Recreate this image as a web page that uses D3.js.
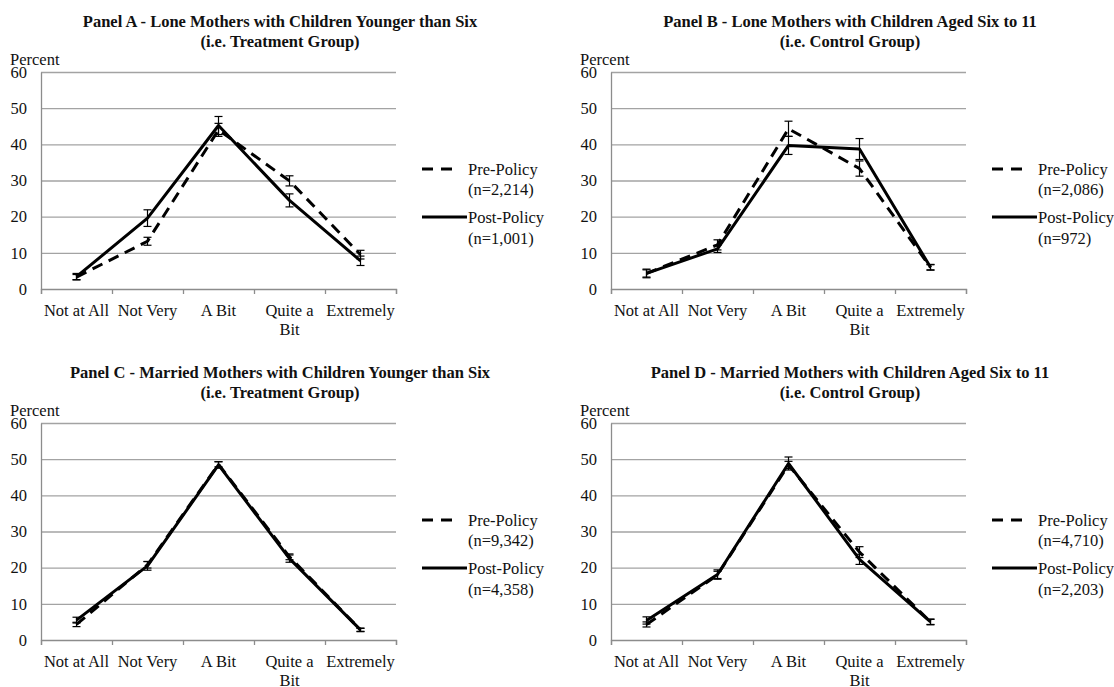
<!DOCTYPE html>
<html>
<head>
<meta charset="utf-8">
<script src="https://cdn.jsdelivr.net/npm/d3@7"></script>
<style>
  body { margin: 0; background: #fff; }
  svg text { font-family: "Liberation Serif", "DejaVu Serif", serif; }
</style>
</head>
<body>
<svg id="chart" width="1114" height="687" font-family="Liberation Serif, DejaVu Serif, serif"></svg>
<script>
let categories = ["Not at All", "Not Very", "A Bit", "Quite a Bit", "Extremely"];
let yTicks = [0, 10, 20, 30, 40, 50, 60];

let panelTitles = [
  "Panel A - Lone Mothers with Children Younger than Six",
  "Panel B - Lone Mothers with Children Aged Six to 11",
  "Panel C - Married Mothers with Children Younger than Six",
  "Panel D - Married Mothers with Children Aged Six to 11"
];
let panelSubtitles = ["(i.e. Treatment Group)", "(i.e. Control Group)", "(i.e. Treatment Group)", "(i.e. Control Group)"];
let preN = ["2,214", "2,086", "9,342", "4,710"];
let postN = ["1,001", "972", "4,358", "2,203"];

// percent values
let preA = [3.3, 13.2, 44.0, 29.9, 9.5];
let postA = [3.4, 19.6, 45.2, 24.5, 7.8];
let preErrA = [0.7, 1.1, 1.8, 1.4, 1.2];
let postErrA = [0.9, 2.3, 2.5, 1.8, 1.3];

let preB = [4.3, 12.2, 44.3, 33.3, 6.0];
let postB = [4.3, 11.1, 39.7, 38.7, 6.0];
let preErrB = [1.0, 1.4, 2.1, 2.1, 0.7];
let postErrB = [1.2, 1.0, 2.5, 2.9, 0.8];

let preC = [4.3, 20.8, 48.6, 23.0, 2.8];
let postC = [5.5, 20.5, 48.4, 22.5, 2.8];
let preErrC = [0.6, 0.9, 0.7, 0.8, 0.4];
let postErrC = [0.8, 1.2, 0.9, 1.0, 0.5];

let preD = [4.3, 18.0, 48.4, 24.3, 5.0];
let postD = [5.4, 18.1, 48.8, 22.3, 5.0];
let preErrD = [0.7, 1.0, 1.0, 1.5, 0.7];
let postErrD = [1.0, 1.3, 1.8, 1.4, 0.8];

let panels = [
  { pre: preA, post: postA, preErr: preErrA, postErr: postErrA, dx: 0, dy: 0 },
  { pre: preB, post: postB, preErr: preErrB, postErr: postErrB, dx: 570, dy: 0 },
  { pre: preC, post: postC, preErr: preErrC, postErr: postErrC, dx: 0, dy: 351 },
  { pre: preD, post: postD, preErr: preErrD, postErr: postErrD, dx: 570, dy: 351 }
];

let svg = d3.select("#chart"),
    margin = { top: 72, left: 41 },
    width = 355,
    height = 217,
    fs = 16.5,
    serif = "Liberation Serif, DejaVu Serif, serif";

let x = d3.scaleBand().domain(categories).range([0, width]);
let xEdge = d3.scaleLinear().domain([0, categories.length]).range([0, width]);
let y = d3.scaleLinear().domain([0, 60]).range([height, 0]);

function wrap(text, w) {
  text.each(function() {
    let t = d3.select(this),
        words = t.text().split(/\s+/).reverse(),
        word, line = [], lineNumber = 0,
        yy = t.attr("y"), dy = parseFloat(t.attr("dy")),
        tspan = t.text(null).append("tspan").attr("x", 0).attr("y", yy).attr("dy", dy + "em");
    while (word = words.pop()) {
      line.push(word);
      tspan.text(line.join(" "));
      if (tspan.node().getComputedTextLength() > w && line.length > 1) {
        line.pop();
        tspan.text(line.join(" "));
        line = [word];
        tspan = t.append("tspan").attr("x", 0).attr("y", yy)
          .attr("dy", ++lineNumber * 1.15 + dy + "em").text(word);
      }
    }
  });
}

let line = d3.line()
  .x(function(d, i) { return x(categories[i]) + x.bandwidth() / 2; })
  .y(function(d) { return y(d); });

panels.forEach(function(p, k) {
  let root = svg.append("g").attr("transform", "translate(" + p.dx + "," + p.dy + ")");

  root.append("text")
    .attr("x", 280).attr("y", 27)
    .attr("text-anchor", "middle").attr("font-weight", "bold").attr("font-size", fs)
    .attr("fill", "#111")
    .text(panelTitles[k]);
  root.append("text")
    .attr("x", 280).attr("y", 47)
    .attr("text-anchor", "middle").attr("font-weight", "bold").attr("font-size", fs)
    .attr("fill", "#111")
    .text(panelSubtitles[k]);
  root.append("text")
    .attr("x", 10).attr("y", 65)
    .attr("font-size", fs).attr("fill", "#111")
    .text("Percent");

  let g = root.append("g").attr("transform", "translate(" + margin.left + "," + margin.top + ")");

  // gridlines
  g.append("g")
    .call(d3.axisLeft(y).tickValues(yTicks.slice(1)).tickSize(-width).tickFormat(""))
    .call(function(a) { a.select(".domain").remove(); })
    .selectAll("line").attr("stroke", "#a3a3a3").attr("stroke-width", 1.3);

  // y axis
  g.append("g")
    .call(d3.axisLeft(y).tickValues(yTicks).tickSize(0).tickPadding(14))
    .attr("font-family", serif).attr("font-size", fs)
    .call(function(a) { a.select(".domain").attr("stroke", "#8c8c8c").attr("stroke-width", 1.3); })
    .selectAll("text").attr("fill", "#111");

  // x axis: tick marks between categories
  g.append("g")
    .attr("transform", "translate(0," + height + ")")
    .call(d3.axisBottom(xEdge).tickValues(d3.range(categories.length + 1)).tickSize(5).tickFormat(""))
    .call(function(a) {
      a.select(".domain").attr("stroke", "#8c8c8c").attr("stroke-width", 1.3);
      a.selectAll("line").attr("stroke", "#8c8c8c").attr("stroke-width", 1.3);
    });

  g.append("g")
    .attr("transform", "translate(0," + height + ")")
    .call(d3.axisBottom(x).tickSize(0).tickPadding(15))
    .attr("font-family", serif).attr("font-size", fs)
    .call(function(a) { a.select(".domain").remove(); })
    .selectAll("text").attr("fill", "#111")
    .call(wrap, x.bandwidth() - 1);

  // series lines
  g.append("path").datum(p.pre)
    .attr("fill", "none").attr("stroke", "#000").attr("stroke-width", 3)
    .attr("stroke-dasharray", "11,7").attr("stroke-linejoin", "round")
    .attr("d", line);
  g.append("path").datum(p.post)
    .attr("fill", "none").attr("stroke", "#000").attr("stroke-width", 3)
    .attr("stroke-linejoin", "round")
    .attr("d", line);

  // error bars
  [[p.pre, p.preErr], [p.post, p.postErr]].forEach(function(s) {
    let eb = g.append("g").selectAll("g")
      .data(s[0].map(function(v, i) { return { c: categories[i], v: v, e: s[1][i] }; }))
      .enter().append("g")
        .attr("transform", function(d) { return "translate(" + (x(d.c) + x.bandwidth() / 2) + ",0)"; })
        .attr("stroke", "#000").attr("stroke-width", 1.2);
    eb.append("line")
      .attr("y1", function(d) { return y(d.v - d.e); })
      .attr("y2", function(d) { return y(d.v + d.e); });
    eb.append("line").attr("x1", -4).attr("x2", 4)
      .attr("y1", function(d) { return y(d.v - d.e); })
      .attr("y2", function(d) { return y(d.v - d.e); });
    eb.append("line").attr("x1", -4).attr("x2", 4)
      .attr("y1", function(d) { return y(d.v + d.e); })
      .attr("y2", function(d) { return y(d.v + d.e); });
  });

  // legend
  let legend = root.append("g").attr("font-size", fs).attr("fill", "#111");
  legend.append("line")
    .attr("x1", 422).attr("x2", 452).attr("y1", 169).attr("y2", 169)
    .attr("stroke", "#000").attr("stroke-width", 3).attr("stroke-dasharray", "11,8");
  legend.append("line")
    .attr("x1", 422).attr("x2", 467).attr("y1", 217).attr("y2", 217)
    .attr("stroke", "#000").attr("stroke-width", 3);
  legend.append("text").attr("x", 468).attr("y", 174.5).text("Pre-Policy");
  legend.append("text").attr("x", 468).attr("y", 195).text("(n=" + preN[k] + ")");
  legend.append("text").attr("x", 468).attr("y", 223).text("Post-Policy");
  legend.append("text").attr("x", 468).attr("y", 244).text("(n=" + postN[k] + ")");
});
</script>
</body>
</html>
